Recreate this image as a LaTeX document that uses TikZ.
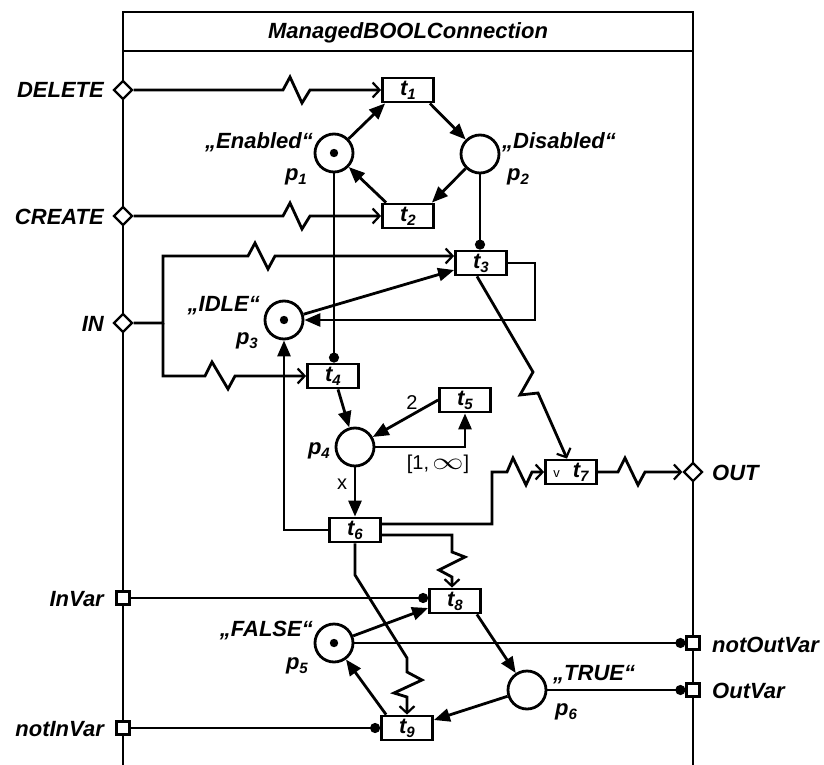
\documentclass[tikz,border=0pt]{standalone}
\usepackage{fontspec}
\setmainfont{Liberation Sans}
\usepackage{graphicx}
\usetikzlibrary{arrows.meta,shapes.geometric}
\newcommand\sbs[1]{\lower4pt\hbox{\fontsize{15}{15}\selectfont #1}}
\newcommand\bigfont{\fontsize{22}{26}\selectfont\bfseries\itshape}
\tikzset{
 lab/.style={font=\bigfont, inner sep=0pt},
 elab/.style={font=\fontsize{20}{22}\selectfont, inner sep=0pt},
 trans/.style={draw, line width=2.8pt, minimum width=51pt, minimum height=24pt, inner sep=0pt, font=\bigfont},
 place/.style={circle, draw, line width=2.8pt, minimum size=38pt, inner sep=0pt},
 marked/.style={place, path picture={\fill (path picture bounding box.center) circle (4.2pt);}},
 arc/.style={line width=2.8pt, -{Triangle[length=16pt,width=13pt]}},
 evt/.style={line width=2.8pt, -{Straight Barb[length=7pt,width=15pt,line width=2.2pt]}},
 cond/.style={line width=2.8pt, -{Circle[length=10pt]}},
 dport/.style={diamond, draw, fill=white, line width=2.2pt, minimum width=19pt, minimum height=19pt, inner sep=0pt},
 sport/.style={rectangle, draw, fill=white, line width=2.2pt, minimum size=13pt, inner sep=0pt},
 frame/.style={line width=2pt}
}
\begin{document}
\begin{tikzpicture}[x=1pt,y=-1pt]
\fill[white] (0,0) rectangle (824,765);
\useasboundingbox (0,0) rectangle (824,765);
% frame
\draw[frame] (123,765) -- (123,12) -- (693,12) -- (693,765);
\draw[frame] (123,51) -- (693,51);
\node[lab, anchor=base] (title) at (408,39) {ManagedBOOLConnection};

% transitions
\node[trans] (t1) at (408,90) {t\sbs{1}};
\node[trans] (t2) at (408,216) {t\sbs{2}};
\node[trans] (t3) at (481,263) {t\sbs{3}};
\node[trans] (t4) at (333,376) {t\sbs{4}};
\node[trans] (t5) at (465,400) {t\sbs{5}};
\node[trans] (t6) at (355,530) {t\sbs{6}};
\node[trans] (t7) at (571,472) {{\fontsize{13}{13}\selectfont\mdseries\upshape v}\hspace{13pt}t\sbs{7}};
\node[trans] (t8) at (455,601) {t\sbs{8}};
\node[trans] (t9) at (407,728) {t\sbs{9}};

% places
\node[marked] (p1) at (334,153) {};
\node[place] (p2) at (480,154) {};
\node[marked] (p3) at (284,320) {};
\node[place] (p4) at (355,447) {};
\node[marked] (p5) at (334,643) {};
\node[place] (p6) at (527,690) {};

% place labels
\node[lab, anchor=base east] (n1) at (313,148) {„Enabled“};
\node[lab, anchor=base east] (q1) at (307,180) {p\sbs{1}};
\node[lab, anchor=base west] (n2) at (502,148) {„Disabled“};
\node[lab, anchor=base west] (q2) at (507,180) {p\sbs{2}};
\node[lab, anchor=base east] (n3) at (260,311) {„IDLE“};
\node[lab, anchor=base east] (q3) at (258,344) {p\sbs{3}};
\node[lab, anchor=base east] (q4) at (330,454) {p\sbs{4}};
\node[lab, anchor=base east] (n5) at (313,636) {„FALSE“};
\node[lab, anchor=base east] (q5) at (308,669) {p\sbs{5}};
\node[lab, anchor=base west] (n6) at (553,680) {„TRUE“};
\node[lab, anchor=base west] (q6) at (555,715) {p\sbs{6}};

% ports
\node[dport] (DEL) at (123,90) {};
\node[dport] (CRE) at (123,216) {};
\node[dport] (IN) at (123,323) {};
\node[dport] (OUT) at (693,472) {};
\node[sport] (InVar) at (123,598) {};
\node[sport] (notInVar) at (123,728) {};
\node[sport] (notOutVar) at (693,643) {};
\node[sport] (OutVar) at (693,690) {};

% connectors
\draw[evt] (DEL.east) -- (283,90) -- (290,77) -- (302,103) -- (310,90) -- (t1.west);
\draw[evt] (CRE.east) -- (283,216) -- (290,203) -- (302,229) -- (310,216) -- (t2.west);
\draw[arc] (p1) -- ([xshift=4pt]t1.south west);
\draw[arc] ([xshift=-5pt]t1.south east) -- (p2);
\draw[arc] (p2) -- ([xshift=-3pt]t2.north east);
\draw[arc] ([xshift=5pt]t2.north west) -- (p1);
\draw[cond] (p2.south) -- (p2.south |- t3.north);
\draw[cond] (p1.south) -- (p1.south |- t4.north);
\draw[evt] (IN.east) -- (163,323) -- (163,256) -- (248,256) -- (255,243) -- (268,269) -- (275,256) -- ([yshift=7pt]t3.west);
\draw[evt] (163,323) -- (163,376) -- (205,376) -- (212,362) -- (228,389) -- (235,376) -- (t4.west);
\draw[arc] (p3) -- ([yshift=-7pt]t3.west);
\draw[arc] (t3.east) -- ++(27,0) |- (p3.east);
\draw[evt] ([xshift=-4pt]t3.south) -- (533,372) -- (520,395) -- (538,393) -- ([xshift=-4pt]t7.north);
\draw[arc] ([xshift=5pt]t4.south) -- (p4);
\draw[arc] (t5.west) -- (p4);
\node[elab] (w2) at (412,403) {2};
\draw[arc] (p4.east) -| (t5.south);
\node[elab] (wr) at (438,464) {[1,\,\scalebox{1.5}[1.15]{$\infty$}]};
\draw[arc] (p4.south) -- (t6.north);
\node[elab] (wx) at (342,484) {x};
\draw[arc] (t6.west) -| (p3.south);
\draw[evt] ([yshift=6pt]t6.east) -- (492,524) -- (492,472) -- (507,472) -- (513,458) -- (526,485) -- (532,472) -- (t7.west);
\draw[evt] ([yshift=-5pt]t6.east) -- (452,535) -- (452,552) -- (465,557) -- (439,570) -- (452,577) -- ([xshift=-3pt]t8.north);
\draw[evt] (t6.south) -- (355,575) -- (407,658) -- (407,672) -- (422,680) -- (394,693) -- (407,697) -- (t9.north);
\draw[arc] (p5) -- ([yshift=-7pt]t8.west);
\draw[arc] ([xshift=-5pt]t8.south east) -- (p6);
\draw[arc] (p6) -- ([yshift=8pt]t9.east);
\draw[arc] ([xshift=6pt]t9.north west) -- (p5);
\draw[evt] (t7.east) -- (618,472) -- (625,458) -- (638,485) -- (645,472) -- (OUT.west);
\draw[cond] (InVar.east) -- (InVar.east -| t8.west);
\draw[cond] (p5.east) -- (notOutVar.west);
\draw[cond] (p6.east) -- (OutVar.west);
\draw[cond] (notInVar.east) -- (t9.west);

% port labels
\node[lab, anchor=base east] (lDEL) at (104,98) {DELETE};
\node[lab, anchor=base east] (lCRE) at (104,224) {CREATE};
\node[lab, anchor=base east] (lIN) at (104,331) {IN};
\node[lab, anchor=base east] (lInVar) at (104,606) {InVar};
\node[lab, anchor=base east] (lnotInVar) at (104,736) {notInVar};
\node[lab, anchor=base west] (lOUT) at (712,480) {OUT};
\node[lab, anchor=base west] (lnotOutVar) at (712,652) {notOutVar};
\node[lab, anchor=base west] (lOutVar) at (712,698) {OutVar};
\end{tikzpicture}
\end{document}
